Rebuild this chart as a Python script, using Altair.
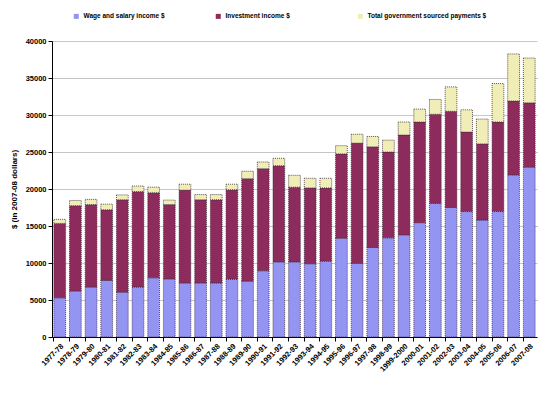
import altair as alt
import pandas as pd

years = ["1977-78", "1978-79", "1979-80", "1980-81", "1981-82", "1982-83", "1983-84",
         "1984-85", "1985-86", "1986-87", "1987-88", "1988-89", "1989-90", "1990-91",
         "1991-92", "1992-93", "1993-94", "1994-95", "1995-96", "1996-97", "1997-98",
         "1998-99", "1999-2000", "2000-01", "2001-02", "2002-03", "2003-04", "2004-05",
         "2005-06", "2006-07", "2007-08"]
wage = [5300, 6200, 6750, 7650, 6050, 6750, 8000, 7850, 7300, 7300, 7300, 7800, 7550, 8950,
        10150, 10150, 9900, 10250, 13350, 9950, 12100, 13400, 13800, 15450, 18050, 17500,
        16950, 15800, 16950, 21900, 22950]
invest = [10050, 11550, 11150, 9550, 12500, 12900, 11500, 10050, 12550, 11250, 11250, 12100,
          13850, 13800, 13000, 10100, 10250, 9900, 11400, 16250, 13600, 11600, 13500, 13600,
          12050, 13000, 10750, 10300, 12100, 10000, 8700]
gov = [550, 700, 700, 750, 650, 750, 750, 600, 800, 700, 700, 750, 1000, 900, 1000, 1600,
       1300, 1300, 1100, 1200, 1400, 1600, 1750, 1750, 2000, 3300, 3000, 3350, 5200, 6350, 6050]
series = ["Wage and salary income $", "Investment income $", "Total government sourced payments  $"]
colors = ["#9494F2", "#8C2B5C", "#F0EEB6"]

rows = []
for i, yr in enumerate(years):
    for k, vals in enumerate([wage, invest, gov]):
        rows.append({"year": yr, "series": series[k], "value": vals[i], "order": k})
df = pd.DataFrame(rows)

chart = alt.Chart(df).mark_bar(stroke="#3a2a3a", strokeWidth=0.8, strokeDash=[1, 1]).encode(
    x=alt.X("year:N", sort=years, title=None,
            scale=alt.Scale(paddingInner=0.25, paddingOuter=0.12),
            axis=alt.Axis(labelAngle=-45, labelFontSize=7.5, labelFontWeight="bold",
                          labelColor="black", domainColor="black", tickColor="black",
                          bandPosition=0, tickSize=4, labelPadding=1, grid=False)),
    y=alt.Y("value:Q", stack="zero", title="$ (in 2007-08 dollars)",
            scale=alt.Scale(domain=[0, 40000], nice=False),
            axis=alt.Axis(values=list(range(0, 40001, 5000)), format="d",
                          labelFontSize=7.5, labelFontWeight="bold", labelColor="black",
                          domainColor="black", tickColor="black", tickSize=4, labelPadding=2,
                          titleFontSize=8, titleFontWeight="bold", titleColor="black",
                          titlePadding=7,
                          gridColor={"condition": {"test": "datum.value % 10000 !== 0", "value": "#8a8a8a"}, "value": "#c8c8c8"},
                          gridDash={"condition": {"test": "datum.value % 10000 !== 0", "value": [1, 1]}, "value": []})),
    color=alt.Color("series:N", sort=series,
                    scale=alt.Scale(domain=series, range=colors),
                    legend=alt.Legend(orient="none", legendX=21, legendY=-28,
                                      direction="horizontal", gridAlign="all",
                                      columnPadding=10, symbolType="square", symbolSize=25,
                                      symbolStrokeWidth=0, labelFontSize=6.5,
                                      labelFontWeight="bold", labelColor="black",
                                      labelLimit=200, title=None)),
    order=alt.Order("order:Q", sort="ascending"),
).properties(
    width=485, height=296, autosize="none",
    padding={"left": 44, "top": 33, "right": 8, "bottom": 53},
).configure(font="Liberation Sans").configure_view(stroke=None)

chart.save("out.html", embed_options={"renderer": "svg", "actions": False})
